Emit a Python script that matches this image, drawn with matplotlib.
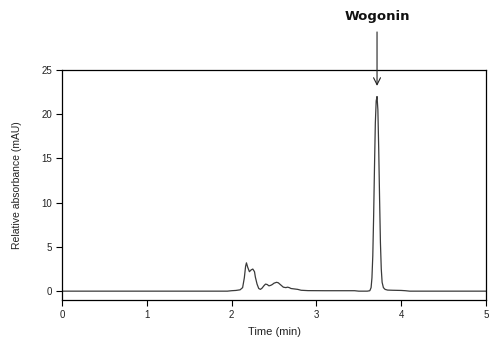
import matplotlib
matplotlib.use("Agg")
import matplotlib.pyplot as plt

plt.rcParams['font.family'] = ['Liberation Sans', 'DejaVu Sans']

time_min = [0.00, 1.00, 1.95, 2.00, 2.05, 2.10, 2.13, 2.15, 2.165, 2.175, 2.19, 2.21, 2.23,
            2.25, 2.27, 2.28, 2.30, 2.32, 2.34, 2.36, 2.38, 2.40, 2.42, 2.44, 2.46,
            2.48, 2.50, 2.53, 2.55, 2.58, 2.61, 2.64, 2.66, 2.68, 2.70, 2.74, 2.78,
            2.82, 2.86, 2.90, 3.10, 3.30, 3.45, 3.50, 3.60, 3.63, 3.645, 3.655, 3.665,
            3.675, 3.685, 3.695, 3.705, 3.715, 3.725, 3.735, 3.745, 3.755, 3.765,
            3.775, 3.79, 3.81, 3.84, 3.90, 4.00, 4.05, 4.10, 4.50, 5.00]
absorbance = [0.00, 0.00, 0.00, 0.05, 0.08, 0.15, 0.40, 1.50, 2.80, 3.20, 2.70, 2.20, 2.40,
              2.50, 2.20, 1.60, 0.80, 0.30, 0.20, 0.35, 0.60, 0.80, 0.75, 0.60, 0.65,
              0.75, 0.90, 1.00, 0.95, 0.70, 0.45, 0.40, 0.45, 0.40, 0.30, 0.25, 0.20,
              0.10, 0.08, 0.06, 0.05, 0.05, 0.05, 0.00, 0.00, 0.05, 0.40, 1.50, 4.00,
              8.50, 14.00, 19.00, 21.50, 22.00, 20.50, 16.00, 10.50, 5.50, 2.50,
              1.00, 0.40, 0.20, 0.12, 0.10, 0.08, 0.05, 0.00, 0.00, 0.00]

x_ticks = [0, 1, 2, 3, 4, 5]
y_ticks = [0, 5, 10, 15, 20, 25]
peak_label = "Wogonin"
peak_time = 3.715

fig = plt.figure(figsize=(4.91, 3.42), dpi=100)
ax = fig.add_axes([62/491, 1-300/342, (486-62)/491, (300-70)/342])
ax.plot(time_min, absorbance, color='#3a3a3a', linewidth=0.9)
ax.set_xlim(0, 5)
ax.set_ylim(-1.0, 25)
ax.set_xticks(x_ticks)
ax.set_yticks(y_ticks)
ax.tick_params(direction='out', length=4, width=0.8, labelsize=7, pad=3,
               colors='black', labelcolor='#222222')
for s in ax.spines.values():
    s.set_linewidth(0.9)
ax.set_xlabel("Time (min)", fontsize=8, labelpad=5, color='#222222')
ax.set_ylabel("Relative absorbance (mAU)", fontsize=7.5, labelpad=14, color='#222222')

ax.annotate('', xy=(peak_time, 23.2), xytext=(peak_time, 29.3),
            xycoords='data', textcoords='data', annotation_clip=False,
            arrowprops=dict(arrowstyle='->,head_length=0.5,head_width=0.25',
                            color='#222222', linewidth=0.8, shrinkA=0, shrinkB=0))
ax.text(peak_time, 31.0, peak_label, ha='center', va='center', fontsize=9.5,
        fontweight='bold', family=['DejaVu Sans'], color='#111111', clip_on=False)

fig.savefig("out.png", dpi=100)
